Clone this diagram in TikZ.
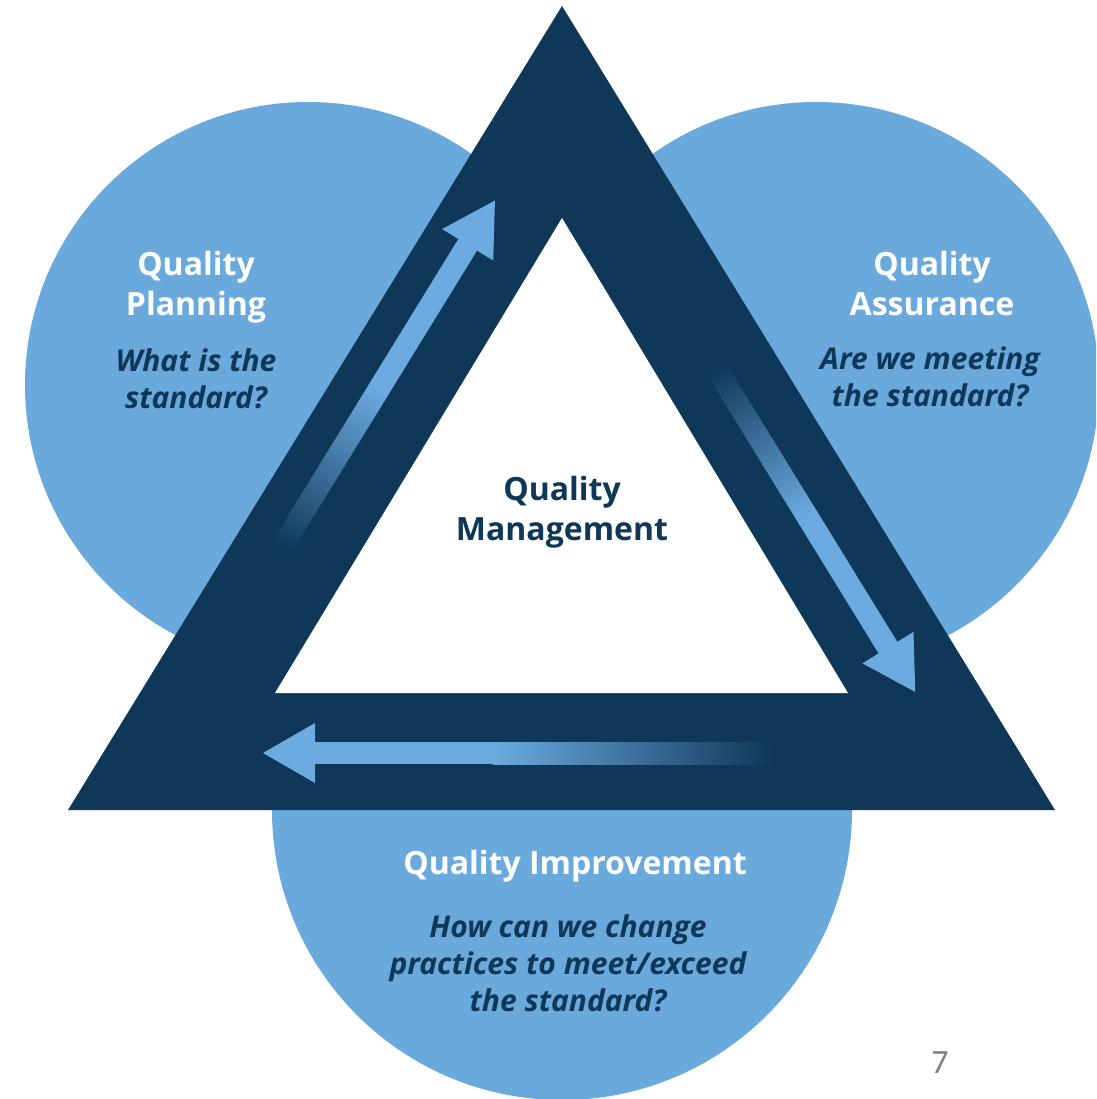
\documentclass[tikz,border=0pt]{standalone}
\usepackage{fontspec}
\setmainfont{Open Sans}
\newfontfamily\pagefont{Carlito}
\usepackage{xcolor}
\usetikzlibrary{arrows,shapes}
\definecolor{navy}{HTML}{0E3758}
\definecolor{bubble blue}{HTML}{6AA9DC}
\definecolor{arrow blue}{HTML}{6CABE0}
\tikzstyle{area} = [shape=circle,inner sep=0pt,fill=bubble blue]
\tikzstyle{heading} = [text=white,align=center,font=\bfseries\fontsize{32}{40}\selectfont]
\tikzstyle{question} = [text=navy,align=center,font=\bfseries\itshape\fontsize{30}{37}\selectfont]

\begin{document}
\begin{tikzpicture}
[x=1pt,y=-1pt,%
shaft/.style={left color=navy,right color=arrow blue},
head/.style={fill=arrow blue}]

\useasboundingbox (0,0) rectangle (1096,1099);
\clip (0,0) rectangle (1096,1099);

%% circles behind the triangle
\foreach \nodename/\x/\y/\size in {
planning/308/385/566, assurance/816/385/566, improvement/562/810/580}
{
\node (\nodename) at (\x,\y) [area,minimum size=\size pt] {};
}

%% triangle
\coordinate (top) at (562,6);
\coordinate (bottom left) at (68,810);
\coordinate (bottom right) at (1055,810);
\coordinate (inner top) at (562,218);
\coordinate (inner left) at (275,693);
\coordinate (inner right) at (848,693);
\fill[navy] (top) -- (bottom right) -- (bottom left) -- cycle;
\fill[white] (inner top) -- (inner right) -- (inner left) -- cycle;

%% arrows, from tail to tip
\foreach \arrowname/\x/\y/\angle/\shadeangle/\len in {
up/267/571/58.4/148.4/435, down/703/347/-58.4/31.6/405, back/773/753/180/-90/510}
{
\begin{scope}[shift={(\x,\y)},rotate=\angle]
\coordinate (\arrowname tail) at (0,0);
\coordinate (\arrowname tip) at (\len,0);
\shade[shaft,shading angle=\shadeangle] (0,-11) rectangle (0.55*\len,11);
\fill[arrow blue] (0.55*\len-1,-11) rectangle (\len-48,11);
\fill[head] (\len-52,-30) -- (\arrowname tip) -- (\len-52,30) -- cycle;
\end{scope}
}

%% texts
\node (planning title) at (196,287) [heading] {Quality\\Planning};
\node (planning question) at (196,379) [question] {What is the\\standard?};
\node (assurance title) at (932,283) [heading] {Quality\\Assurance};
\node (assurance question) at (930,377) [question] {Are we meeting\\the standard?};
\node (management) at (562,512) [heading,text=navy] {Quality\\Management};
\node (improvement title) at (575,866) [heading] {Quality Improvement};
\node (improvement question) at (568,963) [question] {How can we change\\practices to meet/exceed\\the standard?};
\node (page) at (940,1063) [text=gray,font=\pagefont\fontsize{34}{34}\selectfont] {7};

\end{tikzpicture}
\end{document}
